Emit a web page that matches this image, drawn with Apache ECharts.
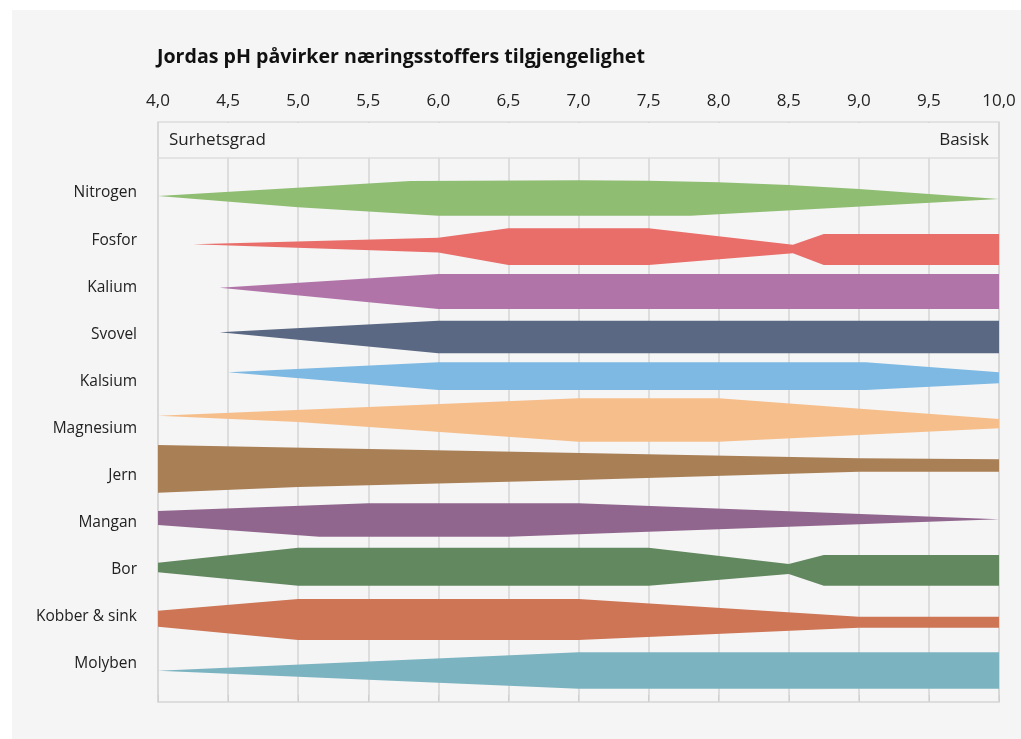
<!DOCTYPE html>
<html>
<head>
<meta charset="utf-8">
<script src="https://cdn.jsdelivr.net/npm/echarts@6/dist/echarts.min.js"></script>
<style>
  html, body { margin: 0; padding: 0; background: #ffffff; }
  #panel { position: absolute; left: 12px; top: 10px; right: 0; bottom: 0; background: #f5f5f5; }
  #chart { position: absolute; left: 0; top: 0; width: 1021px; height: 739px; }
</style>
</head>
<body>
<div id="panel"></div>
<div id="chart"></div>
<script>
// næringsstoffer (rader)
var names = ['Nitrogen', 'Fosfor', 'Kalium', 'Svovel', 'Kalsium', 'Magnesium', 'Jern', 'Mangan', 'Bor', 'Kobber & sink', 'Molyben'];
var colors = ['#8fbd72', '#e96d69', '#b074a9', '#5a6883', '#7db9e3', '#f6be8b', '#a97f56', '#91668e', '#62885f', '#cd7555', '#7bb3c0'];
var phTicks = [4, 4.5, 5, 5.5, 6, 6.5, 7, 7.5, 8, 8.5, 9, 9.5, 10];

// kanter: [pH, y] der rad i har senter i 5 + 10*i
var nitrogenTop = [[4.0, 6.06], [5.8, 2.88], [7.0, 2.73], [7.5, 2.81], [8.0, 3.15], [8.5, 3.73], [9.0, 4.58], [9.5, 5.64], [10, 6.70]];
var nitrogenBottom = [[4.0, 6.06], [5.0, 8.46], [6.0, 10.24], [7.8, 10.24], [10, 6.70]];
var fosforTop = [[4.25, 16.32], [6.0, 14.92], [6.5, 12.92], [7.5, 12.92], [8.53, 16.40], [8.75, 14.13], [10, 14.13]];
var fosforBottom = [[4.25, 16.32], [6.0, 18.06], [6.5, 20.71], [7.5, 20.71], [8.53, 18.23], [8.75, 20.71], [10, 20.71]];
var kaliumTop = [[4.44, 25.53], [6.0, 22.62], [10, 22.62]];
var kaliumBottom = [[4.44, 25.53], [6.0, 30.05], [10, 30.05]];
var svovelTop = [[4.44, 35.0], [6.0, 32.54], [10, 32.54]];
var svovelBottom = [[4.44, 35.0], [6.0, 39.46], [10, 39.46]];
var kalsiumTop = [[4.5, 43.49], [6.0, 41.37], [9.05, 41.37], [10, 43.49]];
var kalsiumBottom = [[4.5, 43.49], [6.0, 47.25], [9.05, 47.25], [10, 45.83]];
var magnesiumTop = [[4.0, 52.71], [7.0, 49.01], [8.0, 49.01], [10, 53.41]];
var magnesiumBottom = [[4.0, 52.71], [5.0, 54.04], [7.0, 58.23], [8.0, 58.23], [10, 55.38]];
var jernTop = [[4.0, 58.93], [9.0, 61.75], [10, 61.96]];
var jernBottom = [[4.0, 69.06], [5.0, 67.84], [7.0, 66.36], [9.0, 64.6], [10, 64.6]];
var manganTop = [[4.0, 72.94], [5.5, 71.31], [7.0, 71.31], [10, 74.70]];
var manganBottom = [[4.0, 75.91], [5.15, 78.40], [6.5, 78.40], [10, 74.70]];
var borTop = [[4.0, 83.92], [5.0, 80.73], [7.5, 80.73], [8.5, 84.19], [8.75, 82.28], [10, 82.28]];
var borBottom = [[4.0, 85.96], [5.0, 88.80], [7.5, 88.80], [8.5, 86.32], [8.75, 88.80], [10, 88.80]];
var kobberTop = [[4.0, 94.11], [5.0, 91.62], [7.0, 91.62], [9.0, 95.38], [10, 95.38]];
var kobberBottom = [[4.0, 97.51], [5.0, 100.33], [7.0, 100.33], [9.0, 97.72], [10, 97.72]];
var molybenTop = [[4.0, 106.85], [7.0, 102.94], [10, 102.94]];
var molybenBottom = [[4.0, 106.85], [7.0, 110.67], [10, 110.67]];

var tops = [nitrogenTop, fosforTop, kaliumTop, svovelTop, kalsiumTop, magnesiumTop, jernTop, manganTop, borTop, kobberTop, molybenTop];
var bottoms = [nitrogenBottom, fosforBottom, kaliumBottom, svovelBottom, kalsiumBottom, magnesiumBottom, jernBottom, manganBottom, borBottom, kobberBottom, molybenBottom];

var fontFam = '"Open Sans", "Noto Sans", sans-serif';

function makeRender(pts) {
    return function (params, api) {
        if (params.dataIndex !== 0) return;
        var shape = pts.map(function (p) { return api.coord(p); });
        return {
            type: 'polygon',
            shape: { points: shape },
            style: { fill: api.visual('color') }
        };
    };
}

var series = names.map(function (n, i) {
    var pts = tops[i].concat(bottoms[i].slice().reverse());
    return {
        name: n,
        type: 'custom',
        xAxisIndex: 1,
        yAxisIndex: 2,
        color: colors[i],
        data: pts,
        renderItem: makeRender(pts),
        silent: true
    };
});

var chart = echarts.init(document.getElementById('chart'));
chart.setOption({
    backgroundColor: 'transparent',
    animation: false,
    textStyle: { fontFamily: fontFam },
    title: {
        text: 'Jordas pH påvirker næringsstoffers tilgjengelighet',
        left: 152,
        top: 42,
        textStyle: { fontSize: 19.6, fontWeight: 'bold', color: '#111', fontFamily: fontFam }
    },
    grid: [
        { left: 158, right: 22, top: 122, bottom: 37, show: true, borderColor: '#dcdcdc', borderWidth: 1.5, backgroundColor: 'transparent' },
        { left: 158, right: 22, top: 167.45, bottom: 53.45 }
    ],
    xAxis: [{
        gridIndex: 0,
        type: 'value',
        position: 'top',
        min: 4,
        max: 10,
        interval: 0.5,
        axisLine: { show: true, lineStyle: { color: '#dcdcdc', width: 1.5 } },
        axisTick: { show: true, length: 7, lineStyle: { color: '#cfcfcf' } },
        axisLabel: {
            margin: 12,
            fontSize: 17,
            color: '#222',
            formatter: function (v) { return phTicks.indexOf(v) >= 0 ? v.toFixed(1).replace('.', ',') : ''; }
        },
        splitLine: { show: true, lineStyle: { color: '#d4d4d4', width: 1.5 } }
    }, {
        gridIndex: 1,
        type: 'value',
        min: 4,
        max: 10,
        show: false
    }],
    yAxis: [{
        gridIndex: 0,
        type: 'value',
        min: 0,
        max: 1,
        show: false
    }, {
        gridIndex: 1,
        type: 'category',
        inverse: true,
        data: names,
        axisLine: { show: false },
        axisTick: { show: false },
        axisLabel: { margin: 21, fontSize: 15.5, color: '#222', verticalAlign: 'top', lineHeight: 4 }
    }, {
        gridIndex: 1,
        type: 'value',
        min: 0,
        max: 110,
        inverse: true,
        show: false
    }],
    graphic: [{
        type: 'rect',
        z: 10,
        shape: { x: 159, y: 123, width: 839, height: 34.5 },
        style: { fill: '#f5f5f5' }
    }, {
        type: 'line',
        z: 11,
        shape: { x1: 158, y1: 158, x2: 999, y2: 158 },
        style: { stroke: '#dcdcdc', lineWidth: 1.5 }
    }, {
        type: 'text',
        z: 11,
        x: 169,
        y: 140,
        style: { text: 'Surhetsgrad', fontSize: 17, fill: '#222', fontFamily: fontFam, verticalAlign: 'middle', align: 'left' }
    }, {
        type: 'text',
        z: 11,
        x: 989,
        y: 140,
        style: { text: 'Basisk', fontSize: 17, fill: '#222', fontFamily: fontFam, verticalAlign: 'middle', align: 'right' }
    }],
    series: series
});
</script>
</body>
</html>
